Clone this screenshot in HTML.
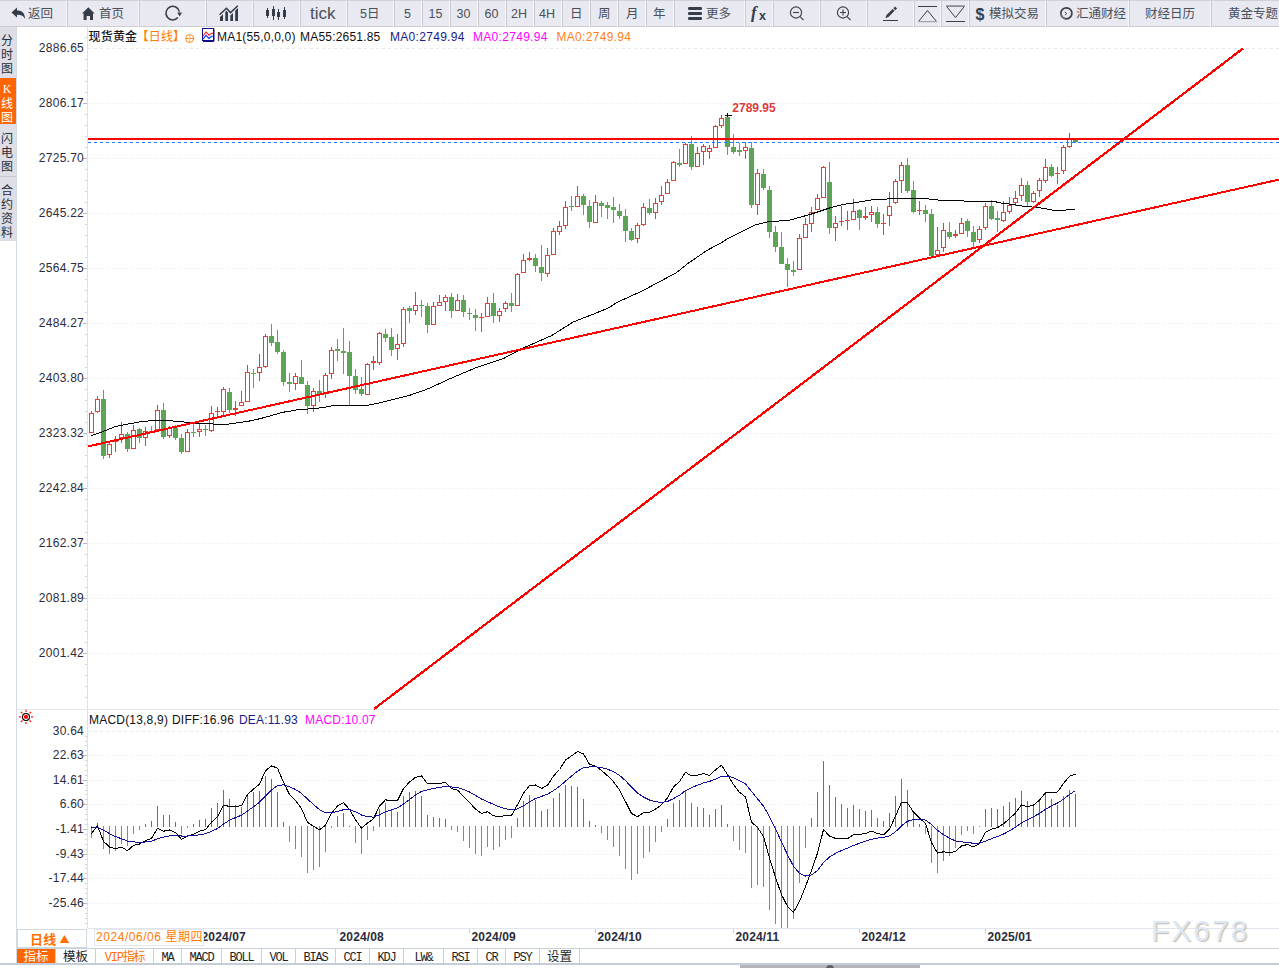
<!DOCTYPE html><html><head><meta charset="utf-8"><style>
*{margin:0;padding:0;box-sizing:border-box}
html,body{width:1279px;height:968px;overflow:hidden;background:#fff}
body{position:relative;font-family:"Liberation Sans","Noto Sans CJK SC",sans-serif;color:#2c2c3a}
.abs{position:absolute}
#tb{position:absolute;left:0;top:0;width:1279px;height:27px;background:#e9e9f1;border-top:1px solid #cfd0d8;border-bottom:1px solid #cbccd4}
.sep{position:absolute;top:0;width:1px;height:26px;background:#c9cad2}
.tt{position:absolute;top:1px;line-height:25px;height:25px;white-space:nowrap;color:#4a5059;font-weight:400;font-family:"Liberation Sans","Noto Sans CJK SC",sans-serif}
#sb{position:absolute;left:0;top:27px;width:16px;height:214px;background:#dddee6}
.sbt{position:absolute;left:0;width:14px;text-align:center;font-size:12px;line-height:14px;color:#2a2f38;font-family:"Noto Sans CJK SC",sans-serif}
.yl{position:absolute;right:1195px;font-size:12px;line-height:14px;color:#2b2b3b;white-space:nowrap;letter-spacing:0.25px}
.hd{position:absolute;font-size:12px;line-height:14px;white-space:nowrap;letter-spacing:0.2px}
.xl{position:absolute;top:931px;font-size:12px;font-weight:bold;line-height:13px;color:#2b2b3b;letter-spacing:0.15px}
.tab{position:absolute;top:949px;height:14px;line-height:18px;font-size:12px;letter-spacing:-1.2px;text-align:center;font-family:"Liberation Mono","Noto Sans CJK SC",monospace;color:#1a1f28;border-right:1px solid #c8d0da}
</style></head><body>
<div id="tb">
<div class="sep" style="left:67px"></div><div class="sep" style="left:66px;background:#f6f6fa;height:26px"></div>
<div class="sep" style="left:139px"></div><div class="sep" style="left:138px;background:#f6f6fa;height:26px"></div>
<div class="sep" style="left:206px"></div><div class="sep" style="left:205px;background:#f6f6fa;height:26px"></div>
<div class="sep" style="left:253px"></div><div class="sep" style="left:252px;background:#f6f6fa;height:26px"></div>
<div class="sep" style="left:300px"></div><div class="sep" style="left:299px;background:#f6f6fa;height:26px"></div>
<div class="sep" style="left:347px"></div><div class="sep" style="left:346px;background:#f6f6fa;height:26px"></div>
<div class="sep" style="left:394px"></div><div class="sep" style="left:393px;background:#f6f6fa;height:26px"></div>
<div class="sep" style="left:422px"></div><div class="sep" style="left:421px;background:#f6f6fa;height:26px"></div>
<div class="sep" style="left:450px"></div><div class="sep" style="left:449px;background:#f6f6fa;height:26px"></div>
<div class="sep" style="left:478px"></div><div class="sep" style="left:477px;background:#f6f6fa;height:26px"></div>
<div class="sep" style="left:506px"></div><div class="sep" style="left:505px;background:#f6f6fa;height:26px"></div>
<div class="sep" style="left:534px"></div><div class="sep" style="left:533px;background:#f6f6fa;height:26px"></div>
<div class="sep" style="left:562px"></div><div class="sep" style="left:561px;background:#f6f6fa;height:26px"></div>
<div class="sep" style="left:590px"></div><div class="sep" style="left:589px;background:#f6f6fa;height:26px"></div>
<div class="sep" style="left:618px"></div><div class="sep" style="left:617px;background:#f6f6fa;height:26px"></div>
<div class="sep" style="left:646px"></div><div class="sep" style="left:645px;background:#f6f6fa;height:26px"></div>
<div class="sep" style="left:674px"></div><div class="sep" style="left:673px;background:#f6f6fa;height:26px"></div>
<div class="sep" style="left:745px"></div><div class="sep" style="left:744px;background:#f6f6fa;height:26px"></div>
<div class="sep" style="left:773px"></div><div class="sep" style="left:772px;background:#f6f6fa;height:26px"></div>
<div class="sep" style="left:820px"></div><div class="sep" style="left:819px;background:#f6f6fa;height:26px"></div>
<div class="sep" style="left:867px"></div><div class="sep" style="left:866px;background:#f6f6fa;height:26px"></div>
<div class="sep" style="left:914px"></div><div class="sep" style="left:913px;background:#f6f6fa;height:26px"></div>
<div class="sep" style="left:941px"></div><div class="sep" style="left:940px;background:#f6f6fa;height:26px"></div>
<div class="sep" style="left:969px"></div><div class="sep" style="left:968px;background:#f6f6fa;height:26px"></div>
<div class="sep" style="left:1046px"></div><div class="sep" style="left:1045px;background:#f6f6fa;height:26px"></div>
<div class="sep" style="left:1129px"></div><div class="sep" style="left:1128px;background:#f6f6fa;height:26px"></div>
<div class="sep" style="left:1211px"></div><div class="sep" style="left:1210px;background:#f6f6fa;height:26px"></div>
<div class="tt " style="left:28px;font-size:12.5px">返回</div>
<div class="tt " style="left:99px;font-size:12.5px">首页</div>
<div class="tt" style="left:310px;top:0;font-size:17px">tick</div>
<div class="tt " style="left:360px;font-size:12.5px">5日</div>
<div class="tt " style="left:404px;font-size:12.5px">5</div>
<div class="tt " style="left:428.5px;font-size:12.5px">15</div>
<div class="tt " style="left:456.5px;font-size:12.5px">30</div>
<div class="tt " style="left:484.5px;font-size:12.5px">60</div>
<div class="tt " style="left:511px;font-size:12.5px">2H</div>
<div class="tt " style="left:539px;font-size:12.5px">4H</div>
<div class="tt " style="left:570px;font-size:12.5px">日</div>
<div class="tt " style="left:598px;font-size:12.5px">周</div>
<div class="tt " style="left:626px;font-size:12.5px">月</div>
<div class="tt " style="left:653px;font-size:12.5px">年</div>
<div class="tt " style="left:706px;font-size:12.5px">更多</div>
<div class="tt " style="left:989px;font-size:12.5px">模拟交易</div>
<div class="tt " style="left:1076px;font-size:12.5px">汇通财经</div>
<div class="tt " style="left:1145px;font-size:12.5px">财经日历</div>
<div class="tt " style="left:1228px;font-size:12.5px">黄金专题</div>
</div>
<svg class="abs" style="left:0;top:0" width="1279" height="27" viewBox="0 0 1279 27">
<g fill="#353d48" stroke="none">
<path d="M11.5,12.5 L17,7.5 L17,10.5 C22,10.5 25,13 25,19 C23.5,16 21.5,14.8 17,14.8 L17,17.5 Z"/>
<path d="M82,13.5 L88.3,7.2 L94.6,13.5 L93,13.5 L93,20 L90,20 L90,16 L86.6,16 L86.6,20 L83.6,20 L83.6,13.5 Z"/>
<path d="M220,17 L223,14.2 L223,21 L220,21 Z M225.3,11.9 L226.4,10.8 L228,12.5 L228,21 L225.3,21 Z M230.3,15 L230.6,15.3 L233,12.9 L233,21 L230.3,21 Z M235.2,10.6 L238,8 L238,21 L235.2,21 Z"/>
<rect x="266" y="10" width="3" height="6"/><rect x="267" y="8" width="1" height="10"/>
<rect x="272" y="9" width="3" height="7"/><rect x="273" y="6" width="1" height="14"/>
<rect x="277" y="12" width="3" height="5"/><rect x="278" y="9" width="1" height="11"/>
<rect x="283" y="10" width="3" height="7"/><rect x="284" y="7" width="1" height="12"/>
<rect x="688" y="7" width="14" height="3" rx="1.2"/><rect x="688" y="12" width="14" height="3" rx="1.2"/><rect x="688" y="17" width="14" height="3" rx="1.2"/>
</g>
<g fill="none" stroke="#353d48" stroke-width="1.6">
<path d="M219.6,14.8 L226.4,8.2 L230.6,12.6 L237.8,5.8" stroke-width="1.5"/>
<path d="M179.4,11.6 A6.8,6.8 0 1 0 177.9,17.6" stroke-width="1.5"/>
</g>
<path d="M177.3,12.6 L182,12.6 L179.6,16.6 Z" fill="#353d48"/>
<text x="751" y="17.5" font-family="Liberation Serif" font-style="italic" font-weight="bold" font-size="17" fill="#353d48">f</text>
<text x="759" y="19.5" font-family="Liberation Sans" font-weight="bold" font-size="12.5" fill="#353d48">x</text>
<g fill="none" stroke="#3a4250" stroke-width="1.15">
<circle cx="796" cy="12.5" r="5.6"/><path d="M800,16.6 L803.5,20"/><path d="M793,12.5 L799,12.5"/>
<circle cx="843" cy="12.5" r="5.6"/><path d="M847,16.6 L850.5,20"/><path d="M840,12.5 L846,12.5 M843,9.5 L843,15.5"/>
</g>
<path d="M885.5,18 L886.28,15.24 L892.61,8.88 L894.59,10.86 L888.26,17.22 Z M893.35,8.17 L895.11,6.4 L897.09,8.38 L895.33,10.15 Z" fill="#353d48"/><rect x="883" y="20" width="15" height="1" fill="#353d48"/>
<rect x="918" y="6" width="19" height="1" fill="#3a3f48"/><path d="M918.5,21.5 L927.5,10.5 L936.5,21.5 Z" fill="none" stroke="#3a3f48" stroke-width="1"/>
<rect x="918" y="21" width="19" height="1.2" fill="#a0a0a8"/>
<path d="M946.5,6.3 L964.5,6.3 L955.5,17.6 Z" fill="none" stroke="#3a3f48" stroke-width="1"/><rect x="946" y="21" width="19" height="1" fill="#3a3f48"/>
<rect x="946" y="5.3" width="19" height="1.6" fill="#8e9098"/>
<text x="975.5" y="19.5" font-family="Liberation Sans" font-weight="bold" font-size="16" fill="#353d48">$</text>
<g fill="none" stroke="#3a404a" stroke-width="1.7"><circle cx="1066.4" cy="13.3" r="5.5"/></g><path d="M1064.8,11.8 L1066.5,13.3 L1065.3,15.2" fill="none" stroke="#3a404a" stroke-width="1"/><path d="M1061.5,14.5 A5,5 0 0 0 1065,18.5" fill="none" stroke="#8a9098" stroke-width="1"/>
</svg>
<div id="sb">
<div class="abs" style="left:0;top:51px;width:16px;height:46px;background:#ff6600"></div>
<div class="abs" style="left:0;top:149px;width:16px;height:1px;background:#c8cad2"></div>
<div class="sbt" style="top:6px;color:#2a2f38">分</div><div class="sbt" style="top:20px;color:#2a2f38">时</div><div class="sbt" style="top:34px;color:#2a2f38">图</div>
<div class="sbt" style="top:55px;color:#ffffff;font-family:'Liberation Serif',serif;font-size:12px">K</div><div class="sbt" style="top:69px;color:#ffffff">线</div><div class="sbt" style="top:83px;color:#ffffff">图</div>
<div class="sbt" style="top:104px;color:#2a2f38">闪</div><div class="sbt" style="top:118px;color:#2a2f38">电</div><div class="sbt" style="top:132px;color:#2a2f38">图</div>
<div class="sbt" style="top:156px;color:#2a2f38">合</div><div class="sbt" style="top:170px;color:#2a2f38">约</div><div class="sbt" style="top:184px;color:#2a2f38">资</div><div class="sbt" style="top:198px;color:#2a2f38">料</div>
</div>
<div class="abs" style="left:16px;top:241px;width:1px;height:722px;background:#d3dae2"></div>
<div class="abs" style="left:16px;top:27px;width:1px;height:214px;background:#d3dae2"></div>
<svg class="abs" style="left:0;top:0" width="1279" height="968" viewBox="0 0 1279 968">
<rect x="87" y="27" width="1" height="901" fill="#dbe3ea"/>
<rect x="17" y="709" width="1262" height="1" fill="#e2e8ee"/>
<line x1="88" y1="48.5" x2="1279" y2="48.5" stroke="#e4eaf0" stroke-width="1" stroke-dasharray="3,3"/>
<line x1="88" y1="103.5" x2="1279" y2="103.5" stroke="#e4eaf0" stroke-width="1" stroke-dasharray="1,2"/>
<rect x="83" y="103" width="4" height="1" fill="#b4bcc6"/>
<line x1="88" y1="158.5" x2="1279" y2="158.5" stroke="#e4eaf0" stroke-width="1" stroke-dasharray="1,2"/>
<rect x="83" y="158" width="4" height="1" fill="#b4bcc6"/>
<line x1="88" y1="213.5" x2="1279" y2="213.5" stroke="#e4eaf0" stroke-width="1" stroke-dasharray="1,2"/>
<rect x="83" y="213" width="4" height="1" fill="#b4bcc6"/>
<line x1="88" y1="268.5" x2="1279" y2="268.5" stroke="#e4eaf0" stroke-width="1" stroke-dasharray="1,2"/>
<rect x="83" y="268" width="4" height="1" fill="#b4bcc6"/>
<line x1="88" y1="323.5" x2="1279" y2="323.5" stroke="#e4eaf0" stroke-width="1" stroke-dasharray="1,2"/>
<rect x="83" y="323" width="4" height="1" fill="#b4bcc6"/>
<line x1="88" y1="378.5" x2="1279" y2="378.5" stroke="#e4eaf0" stroke-width="1" stroke-dasharray="1,2"/>
<rect x="83" y="378" width="4" height="1" fill="#b4bcc6"/>
<line x1="88" y1="433.5" x2="1279" y2="433.5" stroke="#e4eaf0" stroke-width="1" stroke-dasharray="1,2"/>
<rect x="83" y="433" width="4" height="1" fill="#b4bcc6"/>
<line x1="88" y1="488.5" x2="1279" y2="488.5" stroke="#e4eaf0" stroke-width="1" stroke-dasharray="1,2"/>
<rect x="83" y="488" width="4" height="1" fill="#b4bcc6"/>
<line x1="88" y1="543.5" x2="1279" y2="543.5" stroke="#e4eaf0" stroke-width="1" stroke-dasharray="1,2"/>
<rect x="83" y="543" width="4" height="1" fill="#b4bcc6"/>
<line x1="88" y1="598.5" x2="1279" y2="598.5" stroke="#e4eaf0" stroke-width="1" stroke-dasharray="1,2"/>
<rect x="83" y="598" width="4" height="1" fill="#b4bcc6"/>
<line x1="88" y1="653.5" x2="1279" y2="653.5" stroke="#e4eaf0" stroke-width="1" stroke-dasharray="1,2"/>
<rect x="83" y="653" width="4" height="1" fill="#b4bcc6"/>
<rect x="85" y="37" width="2" height="1" fill="#d0d6de"/>
<rect x="85" y="59" width="2" height="1" fill="#d0d6de"/>
<rect x="85" y="70" width="2" height="1" fill="#d0d6de"/>
<rect x="85" y="81" width="2" height="1" fill="#d0d6de"/>
<rect x="85" y="92" width="2" height="1" fill="#d0d6de"/>
<rect x="85" y="114" width="2" height="1" fill="#d0d6de"/>
<rect x="85" y="125" width="2" height="1" fill="#d0d6de"/>
<rect x="85" y="136" width="2" height="1" fill="#d0d6de"/>
<rect x="85" y="147" width="2" height="1" fill="#d0d6de"/>
<rect x="85" y="169" width="2" height="1" fill="#d0d6de"/>
<rect x="85" y="180" width="2" height="1" fill="#d0d6de"/>
<rect x="85" y="191" width="2" height="1" fill="#d0d6de"/>
<rect x="85" y="202" width="2" height="1" fill="#d0d6de"/>
<rect x="85" y="224" width="2" height="1" fill="#d0d6de"/>
<rect x="85" y="235" width="2" height="1" fill="#d0d6de"/>
<rect x="85" y="246" width="2" height="1" fill="#d0d6de"/>
<rect x="85" y="257" width="2" height="1" fill="#d0d6de"/>
<rect x="85" y="279" width="2" height="1" fill="#d0d6de"/>
<rect x="85" y="290" width="2" height="1" fill="#d0d6de"/>
<rect x="85" y="301" width="2" height="1" fill="#d0d6de"/>
<rect x="85" y="312" width="2" height="1" fill="#d0d6de"/>
<rect x="85" y="334" width="2" height="1" fill="#d0d6de"/>
<rect x="85" y="345" width="2" height="1" fill="#d0d6de"/>
<rect x="85" y="356" width="2" height="1" fill="#d0d6de"/>
<rect x="85" y="367" width="2" height="1" fill="#d0d6de"/>
<rect x="85" y="389" width="2" height="1" fill="#d0d6de"/>
<rect x="85" y="400" width="2" height="1" fill="#d0d6de"/>
<rect x="85" y="411" width="2" height="1" fill="#d0d6de"/>
<rect x="85" y="422" width="2" height="1" fill="#d0d6de"/>
<rect x="85" y="444" width="2" height="1" fill="#d0d6de"/>
<rect x="85" y="455" width="2" height="1" fill="#d0d6de"/>
<rect x="85" y="466" width="2" height="1" fill="#d0d6de"/>
<rect x="85" y="477" width="2" height="1" fill="#d0d6de"/>
<rect x="85" y="499" width="2" height="1" fill="#d0d6de"/>
<rect x="85" y="510" width="2" height="1" fill="#d0d6de"/>
<rect x="85" y="521" width="2" height="1" fill="#d0d6de"/>
<rect x="85" y="532" width="2" height="1" fill="#d0d6de"/>
<rect x="85" y="554" width="2" height="1" fill="#d0d6de"/>
<rect x="85" y="565" width="2" height="1" fill="#d0d6de"/>
<rect x="85" y="576" width="2" height="1" fill="#d0d6de"/>
<rect x="85" y="587" width="2" height="1" fill="#d0d6de"/>
<rect x="85" y="609" width="2" height="1" fill="#d0d6de"/>
<rect x="85" y="620" width="2" height="1" fill="#d0d6de"/>
<rect x="85" y="631" width="2" height="1" fill="#d0d6de"/>
<rect x="85" y="642" width="2" height="1" fill="#d0d6de"/>
<rect x="85" y="664" width="2" height="1" fill="#d0d6de"/>
<rect x="85" y="675" width="2" height="1" fill="#d0d6de"/>
<rect x="85" y="686" width="2" height="1" fill="#d0d6de"/>
<rect x="85" y="697" width="2" height="1" fill="#d0d6de"/>
<rect x="89.5" y="413.5" width="4" height="19" fill="#fff" stroke="#d8433b" stroke-width="1"/>
<rect x="91" y="411" width="1" height="2" fill="#d8433b"/>
<rect x="95.5" y="399.5" width="4" height="12" fill="#fff" stroke="#d8433b" stroke-width="1"/>
<rect x="97" y="396" width="1" height="3" fill="#d8433b"/>
<rect x="97" y="412" width="1" height="1" fill="#d8433b"/>
<rect x="101" y="399" width="5" height="57" fill="#5ea457"/>
<rect x="103" y="390" width="1" height="69" fill="#5ea457"/>
<rect x="107.5" y="444.5" width="4" height="10" fill="#fff" stroke="#d8433b" stroke-width="1"/>
<rect x="109" y="442" width="1" height="2" fill="#d8433b"/>
<rect x="109" y="455" width="1" height="3" fill="#d8433b"/>
<rect x="113" y="440" width="5" height="2" fill="#d8433b"/>
<rect x="115" y="436" width="1" height="4" fill="#d8433b"/>
<rect x="115" y="442" width="1" height="10" fill="#d8433b"/>
<rect x="119.5" y="434.5" width="4" height="3" fill="#fff" stroke="#d8433b" stroke-width="1"/>
<rect x="121" y="422" width="1" height="12" fill="#d8433b"/>
<rect x="121" y="438" width="1" height="5" fill="#d8433b"/>
<rect x="125" y="434" width="5" height="15" fill="#5ea457"/>
<rect x="127" y="432" width="1" height="20" fill="#5ea457"/>
<rect x="131.5" y="430.5" width="4" height="18" fill="#fff" stroke="#d8433b" stroke-width="1"/>
<rect x="133" y="425" width="1" height="5" fill="#d8433b"/>
<rect x="137" y="429" width="5" height="9" fill="#5ea457"/>
<rect x="139" y="428" width="1" height="15" fill="#5ea457"/>
<rect x="143.5" y="431.5" width="4" height="6" fill="#fff" stroke="#d8433b" stroke-width="1"/>
<rect x="145" y="427" width="1" height="4" fill="#d8433b"/>
<rect x="145" y="438" width="1" height="8" fill="#d8433b"/>
<rect x="149" y="431" width="5" height="2" fill="#5ea457"/>
<rect x="151" y="426" width="1" height="7" fill="#5ea457"/>
<rect x="155.5" y="410.5" width="4" height="19" fill="#fff" stroke="#d8433b" stroke-width="1"/>
<rect x="157" y="405" width="1" height="5" fill="#d8433b"/>
<rect x="161" y="410" width="5" height="27" fill="#5ea457"/>
<rect x="163" y="403" width="1" height="36" fill="#5ea457"/>
<rect x="167.5" y="428.5" width="4" height="7" fill="#fff" stroke="#d8433b" stroke-width="1"/>
<rect x="169" y="426" width="1" height="2" fill="#d8433b"/>
<rect x="169" y="436" width="1" height="2" fill="#d8433b"/>
<rect x="173" y="428" width="5" height="10" fill="#5ea457"/>
<rect x="175" y="425" width="1" height="15" fill="#5ea457"/>
<rect x="179" y="438" width="5" height="14" fill="#5ea457"/>
<rect x="181" y="434" width="1" height="20" fill="#5ea457"/>
<rect x="185.5" y="432.5" width="4" height="19" fill="#fff" stroke="#d8433b" stroke-width="1"/>
<rect x="187" y="429" width="1" height="3" fill="#d8433b"/>
<rect x="191" y="432" width="5" height="1" fill="#5ea457"/>
<rect x="193" y="424" width="1" height="13" fill="#5ea457"/>
<rect x="197.5" y="429.5" width="4" height="2" fill="#fff" stroke="#d8433b" stroke-width="1"/>
<rect x="199" y="424" width="1" height="5" fill="#d8433b"/>
<rect x="199" y="432" width="1" height="5" fill="#d8433b"/>
<rect x="203" y="429" width="5" height="1" fill="#5ea457"/>
<rect x="205" y="425" width="1" height="11" fill="#5ea457"/>
<rect x="209.5" y="413.5" width="4" height="17" fill="#fff" stroke="#d8433b" stroke-width="1"/>
<rect x="211" y="406" width="1" height="7" fill="#d8433b"/>
<rect x="211" y="431" width="1" height="1" fill="#d8433b"/>
<rect x="215" y="411" width="5" height="1" fill="#d8433b"/>
<rect x="217" y="407" width="1" height="4" fill="#d8433b"/>
<rect x="217" y="412" width="1" height="4" fill="#d8433b"/>
<rect x="221.5" y="389.5" width="4" height="22" fill="#fff" stroke="#d8433b" stroke-width="1"/>
<rect x="223" y="387" width="1" height="2" fill="#d8433b"/>
<rect x="223" y="412" width="1" height="3" fill="#d8433b"/>
<rect x="227" y="392" width="5" height="18" fill="#5ea457"/>
<rect x="229" y="388" width="1" height="25" fill="#5ea457"/>
<rect x="233" y="408" width="5" height="2" fill="#d8433b"/>
<rect x="235" y="401" width="1" height="7" fill="#d8433b"/>
<rect x="235" y="410" width="1" height="6" fill="#d8433b"/>
<rect x="239.5" y="402.5" width="4" height="3" fill="#fff" stroke="#d8433b" stroke-width="1"/>
<rect x="241" y="391" width="1" height="11" fill="#d8433b"/>
<rect x="245.5" y="372.5" width="4" height="29" fill="#fff" stroke="#d8433b" stroke-width="1"/>
<rect x="247" y="365" width="1" height="7" fill="#d8433b"/>
<rect x="251" y="373" width="5" height="1" fill="#5ea457"/>
<rect x="253" y="369" width="1" height="19" fill="#5ea457"/>
<rect x="257.5" y="367.5" width="4" height="5" fill="#fff" stroke="#d8433b" stroke-width="1"/>
<rect x="259" y="354" width="1" height="13" fill="#d8433b"/>
<rect x="259" y="373" width="1" height="8" fill="#d8433b"/>
<rect x="263.5" y="336.5" width="4" height="30" fill="#fff" stroke="#d8433b" stroke-width="1"/>
<rect x="265" y="334" width="1" height="2" fill="#d8433b"/>
<rect x="265" y="367" width="1" height="1" fill="#d8433b"/>
<rect x="269" y="336" width="5" height="7" fill="#5ea457"/>
<rect x="271" y="324" width="1" height="22" fill="#5ea457"/>
<rect x="275" y="342" width="5" height="10" fill="#5ea457"/>
<rect x="277" y="330" width="1" height="24" fill="#5ea457"/>
<rect x="281" y="352" width="5" height="30" fill="#5ea457"/>
<rect x="283" y="350" width="1" height="36" fill="#5ea457"/>
<rect x="287" y="382" width="5" height="2" fill="#5ea457"/>
<rect x="289" y="373" width="1" height="19" fill="#5ea457"/>
<rect x="293.5" y="376.5" width="4" height="7" fill="#fff" stroke="#d8433b" stroke-width="1"/>
<rect x="295" y="373" width="1" height="3" fill="#d8433b"/>
<rect x="295" y="384" width="1" height="6" fill="#d8433b"/>
<rect x="299" y="377" width="5" height="7" fill="#5ea457"/>
<rect x="301" y="360" width="1" height="24" fill="#5ea457"/>
<rect x="305" y="385" width="5" height="21" fill="#5ea457"/>
<rect x="307" y="381" width="1" height="33" fill="#5ea457"/>
<rect x="311.5" y="391.5" width="4" height="14" fill="#fff" stroke="#d8433b" stroke-width="1"/>
<rect x="313" y="388" width="1" height="3" fill="#d8433b"/>
<rect x="313" y="406" width="1" height="6" fill="#d8433b"/>
<rect x="317" y="391" width="5" height="3" fill="#5ea457"/>
<rect x="319" y="380" width="1" height="22" fill="#5ea457"/>
<rect x="323.5" y="375.5" width="4" height="17" fill="#fff" stroke="#d8433b" stroke-width="1"/>
<rect x="325" y="373" width="1" height="2" fill="#d8433b"/>
<rect x="325" y="393" width="1" height="5" fill="#d8433b"/>
<rect x="329.5" y="350.5" width="4" height="23" fill="#fff" stroke="#d8433b" stroke-width="1"/>
<rect x="331" y="347" width="1" height="3" fill="#d8433b"/>
<rect x="331" y="374" width="1" height="5" fill="#d8433b"/>
<rect x="335" y="349" width="5" height="2" fill="#5ea457"/>
<rect x="337" y="339" width="1" height="22" fill="#5ea457"/>
<rect x="341" y="351" width="5" height="2" fill="#5ea457"/>
<rect x="343" y="328" width="1" height="46" fill="#5ea457"/>
<rect x="347" y="352" width="5" height="24" fill="#5ea457"/>
<rect x="349" y="341" width="1" height="64" fill="#5ea457"/>
<rect x="353" y="376" width="5" height="14" fill="#5ea457"/>
<rect x="355" y="369" width="1" height="25" fill="#5ea457"/>
<rect x="359" y="389" width="5" height="5" fill="#5ea457"/>
<rect x="361" y="377" width="1" height="19" fill="#5ea457"/>
<rect x="365.5" y="364.5" width="4" height="30" fill="#fff" stroke="#d8433b" stroke-width="1"/>
<rect x="367" y="363" width="1" height="1" fill="#d8433b"/>
<rect x="371" y="361" width="5" height="2" fill="#d8433b"/>
<rect x="373" y="356" width="1" height="5" fill="#d8433b"/>
<rect x="373" y="363" width="1" height="7" fill="#d8433b"/>
<rect x="377.5" y="333.5" width="4" height="29" fill="#fff" stroke="#d8433b" stroke-width="1"/>
<rect x="379" y="332" width="1" height="1" fill="#d8433b"/>
<rect x="379" y="363" width="1" height="2" fill="#d8433b"/>
<rect x="383" y="334" width="5" height="4" fill="#5ea457"/>
<rect x="385" y="329" width="1" height="13" fill="#5ea457"/>
<rect x="389" y="337" width="5" height="13" fill="#5ea457"/>
<rect x="391" y="328" width="1" height="28" fill="#5ea457"/>
<rect x="395.5" y="344.5" width="4" height="4" fill="#fff" stroke="#d8433b" stroke-width="1"/>
<rect x="397" y="334" width="1" height="10" fill="#d8433b"/>
<rect x="397" y="349" width="1" height="11" fill="#d8433b"/>
<rect x="401.5" y="309.5" width="4" height="34" fill="#fff" stroke="#d8433b" stroke-width="1"/>
<rect x="403" y="307" width="1" height="2" fill="#d8433b"/>
<rect x="403" y="344" width="1" height="3" fill="#d8433b"/>
<rect x="407" y="308" width="5" height="3" fill="#5ea457"/>
<rect x="409" y="306" width="1" height="17" fill="#5ea457"/>
<rect x="413.5" y="305.5" width="4" height="5" fill="#fff" stroke="#d8433b" stroke-width="1"/>
<rect x="415" y="292" width="1" height="13" fill="#d8433b"/>
<rect x="415" y="311" width="1" height="4" fill="#d8433b"/>
<rect x="419" y="305" width="5" height="1" fill="#5ea457"/>
<rect x="421" y="300" width="1" height="17" fill="#5ea457"/>
<rect x="425" y="306" width="5" height="19" fill="#5ea457"/>
<rect x="427" y="303" width="1" height="30" fill="#5ea457"/>
<rect x="431.5" y="306.5" width="4" height="18" fill="#fff" stroke="#d8433b" stroke-width="1"/>
<rect x="433" y="302" width="1" height="4" fill="#d8433b"/>
<rect x="437.5" y="302.5" width="4" height="3" fill="#fff" stroke="#d8433b" stroke-width="1"/>
<rect x="439" y="295" width="1" height="7" fill="#d8433b"/>
<rect x="443.5" y="297.5" width="4" height="4" fill="#fff" stroke="#d8433b" stroke-width="1"/>
<rect x="445" y="295" width="1" height="2" fill="#d8433b"/>
<rect x="445" y="302" width="1" height="9" fill="#d8433b"/>
<rect x="449" y="297" width="5" height="14" fill="#5ea457"/>
<rect x="451" y="293" width="1" height="25" fill="#5ea457"/>
<rect x="455.5" y="300.5" width="4" height="10" fill="#fff" stroke="#d8433b" stroke-width="1"/>
<rect x="457" y="294" width="1" height="6" fill="#d8433b"/>
<rect x="461" y="300" width="5" height="12" fill="#5ea457"/>
<rect x="463" y="295" width="1" height="22" fill="#5ea457"/>
<rect x="467" y="313" width="5" height="1" fill="#5ea457"/>
<rect x="469" y="308" width="1" height="12" fill="#5ea457"/>
<rect x="473" y="315" width="5" height="3" fill="#5ea457"/>
<rect x="475" y="309" width="1" height="22" fill="#5ea457"/>
<rect x="479" y="317" width="5" height="1" fill="#d8433b"/>
<rect x="481" y="313" width="1" height="4" fill="#d8433b"/>
<rect x="481" y="318" width="1" height="14" fill="#d8433b"/>
<rect x="485.5" y="303.5" width="4" height="13" fill="#fff" stroke="#d8433b" stroke-width="1"/>
<rect x="487" y="297" width="1" height="6" fill="#d8433b"/>
<rect x="491" y="303" width="5" height="13" fill="#5ea457"/>
<rect x="493" y="293" width="1" height="30" fill="#5ea457"/>
<rect x="497.5" y="311.5" width="4" height="4" fill="#fff" stroke="#d8433b" stroke-width="1"/>
<rect x="499" y="308" width="1" height="3" fill="#d8433b"/>
<rect x="499" y="316" width="1" height="6" fill="#d8433b"/>
<rect x="503.5" y="303.5" width="4" height="5" fill="#fff" stroke="#d8433b" stroke-width="1"/>
<rect x="505" y="301" width="1" height="2" fill="#d8433b"/>
<rect x="505" y="309" width="1" height="3" fill="#d8433b"/>
<rect x="509" y="303" width="5" height="3" fill="#5ea457"/>
<rect x="511" y="293" width="1" height="19" fill="#5ea457"/>
<rect x="515.5" y="274.5" width="4" height="31" fill="#fff" stroke="#d8433b" stroke-width="1"/>
<rect x="517" y="273" width="1" height="1" fill="#d8433b"/>
<rect x="521.5" y="260.5" width="4" height="12" fill="#fff" stroke="#d8433b" stroke-width="1"/>
<rect x="523" y="254" width="1" height="6" fill="#d8433b"/>
<rect x="527" y="258" width="5" height="2" fill="#d8433b"/>
<rect x="529" y="252" width="1" height="6" fill="#d8433b"/>
<rect x="529" y="260" width="1" height="1" fill="#d8433b"/>
<rect x="533" y="258" width="5" height="8" fill="#5ea457"/>
<rect x="535" y="254" width="1" height="18" fill="#5ea457"/>
<rect x="539" y="267" width="5" height="6" fill="#5ea457"/>
<rect x="541" y="245" width="1" height="36" fill="#5ea457"/>
<rect x="545.5" y="255.5" width="4" height="18" fill="#fff" stroke="#d8433b" stroke-width="1"/>
<rect x="547" y="248" width="1" height="7" fill="#d8433b"/>
<rect x="547" y="274" width="1" height="3" fill="#d8433b"/>
<rect x="551.5" y="231.5" width="4" height="23" fill="#fff" stroke="#d8433b" stroke-width="1"/>
<rect x="553" y="228" width="1" height="3" fill="#d8433b"/>
<rect x="557.5" y="226.5" width="4" height="5" fill="#fff" stroke="#d8433b" stroke-width="1"/>
<rect x="559" y="221" width="1" height="5" fill="#d8433b"/>
<rect x="559" y="232" width="1" height="3" fill="#d8433b"/>
<rect x="563.5" y="207.5" width="4" height="18" fill="#fff" stroke="#d8433b" stroke-width="1"/>
<rect x="565" y="201" width="1" height="6" fill="#d8433b"/>
<rect x="565" y="226" width="1" height="3" fill="#d8433b"/>
<rect x="569" y="206" width="5" height="1" fill="#5ea457"/>
<rect x="571" y="196" width="1" height="15" fill="#5ea457"/>
<rect x="575.5" y="196.5" width="4" height="10" fill="#fff" stroke="#d8433b" stroke-width="1"/>
<rect x="577" y="186" width="1" height="10" fill="#d8433b"/>
<rect x="581" y="196" width="5" height="9" fill="#5ea457"/>
<rect x="583" y="194" width="1" height="21" fill="#5ea457"/>
<rect x="587" y="206" width="5" height="16" fill="#5ea457"/>
<rect x="589" y="200" width="1" height="28" fill="#5ea457"/>
<rect x="593.5" y="202.5" width="4" height="20" fill="#fff" stroke="#d8433b" stroke-width="1"/>
<rect x="595" y="195" width="1" height="7" fill="#d8433b"/>
<rect x="599" y="203" width="5" height="3" fill="#5ea457"/>
<rect x="601" y="201" width="1" height="16" fill="#5ea457"/>
<rect x="605" y="205" width="5" height="3" fill="#5ea457"/>
<rect x="607" y="202" width="1" height="17" fill="#5ea457"/>
<rect x="611" y="207" width="5" height="3" fill="#5ea457"/>
<rect x="613" y="197" width="1" height="26" fill="#5ea457"/>
<rect x="617" y="211" width="5" height="5" fill="#5ea457"/>
<rect x="619" y="204" width="1" height="15" fill="#5ea457"/>
<rect x="623" y="216" width="5" height="15" fill="#5ea457"/>
<rect x="625" y="209" width="1" height="33" fill="#5ea457"/>
<rect x="629" y="231" width="5" height="9" fill="#5ea457"/>
<rect x="631" y="228" width="1" height="13" fill="#5ea457"/>
<rect x="635.5" y="225.5" width="4" height="13" fill="#fff" stroke="#d8433b" stroke-width="1"/>
<rect x="637" y="223" width="1" height="2" fill="#d8433b"/>
<rect x="637" y="239" width="1" height="4" fill="#d8433b"/>
<rect x="641.5" y="207.5" width="4" height="17" fill="#fff" stroke="#d8433b" stroke-width="1"/>
<rect x="643" y="203" width="1" height="4" fill="#d8433b"/>
<rect x="643" y="225" width="1" height="1" fill="#d8433b"/>
<rect x="647" y="208" width="5" height="5" fill="#5ea457"/>
<rect x="649" y="199" width="1" height="16" fill="#5ea457"/>
<rect x="653.5" y="203.5" width="4" height="9" fill="#fff" stroke="#d8433b" stroke-width="1"/>
<rect x="655" y="198" width="1" height="5" fill="#d8433b"/>
<rect x="655" y="213" width="1" height="6" fill="#d8433b"/>
<rect x="659.5" y="195.5" width="4" height="6" fill="#fff" stroke="#d8433b" stroke-width="1"/>
<rect x="661" y="186" width="1" height="9" fill="#d8433b"/>
<rect x="661" y="202" width="1" height="3" fill="#d8433b"/>
<rect x="665.5" y="182.5" width="4" height="11" fill="#fff" stroke="#d8433b" stroke-width="1"/>
<rect x="667" y="179" width="1" height="3" fill="#d8433b"/>
<rect x="671.5" y="162.5" width="4" height="18" fill="#fff" stroke="#d8433b" stroke-width="1"/>
<rect x="673" y="161" width="1" height="1" fill="#d8433b"/>
<rect x="677" y="163" width="5" height="2" fill="#5ea457"/>
<rect x="679" y="149" width="1" height="18" fill="#5ea457"/>
<rect x="683.5" y="144.5" width="4" height="19" fill="#fff" stroke="#d8433b" stroke-width="1"/>
<rect x="685" y="143" width="1" height="1" fill="#d8433b"/>
<rect x="689" y="144" width="5" height="23" fill="#5ea457"/>
<rect x="691" y="136" width="1" height="34" fill="#5ea457"/>
<rect x="695.5" y="153.5" width="4" height="13" fill="#fff" stroke="#d8433b" stroke-width="1"/>
<rect x="697" y="147" width="1" height="6" fill="#d8433b"/>
<rect x="701.5" y="146.5" width="4" height="5" fill="#fff" stroke="#d8433b" stroke-width="1"/>
<rect x="703" y="144" width="1" height="2" fill="#d8433b"/>
<rect x="703" y="152" width="1" height="13" fill="#d8433b"/>
<rect x="707.5" y="148.5" width="4" height="3" fill="#fff" stroke="#d8433b" stroke-width="1"/>
<rect x="709" y="145" width="1" height="3" fill="#d8433b"/>
<rect x="709" y="152" width="1" height="7" fill="#d8433b"/>
<rect x="713.5" y="126.5" width="4" height="21" fill="#fff" stroke="#d8433b" stroke-width="1"/>
<rect x="715" y="125" width="1" height="1" fill="#d8433b"/>
<rect x="719.5" y="118.5" width="4" height="7" fill="#fff" stroke="#d8433b" stroke-width="1"/>
<rect x="721" y="115" width="1" height="3" fill="#d8433b"/>
<rect x="721" y="126" width="1" height="2" fill="#d8433b"/>
<rect x="725" y="117" width="5" height="30" fill="#5ea457"/>
<rect x="727" y="114" width="1" height="41" fill="#5ea457"/>
<rect x="731" y="147" width="5" height="5" fill="#5ea457"/>
<rect x="733" y="134" width="1" height="20" fill="#5ea457"/>
<rect x="737" y="150" width="5" height="2" fill="#5ea457"/>
<rect x="739" y="143" width="1" height="13" fill="#5ea457"/>
<rect x="743.5" y="147.5" width="4" height="3" fill="#fff" stroke="#d8433b" stroke-width="1"/>
<rect x="745" y="142" width="1" height="5" fill="#d8433b"/>
<rect x="745" y="151" width="1" height="8" fill="#d8433b"/>
<rect x="749" y="148" width="5" height="57" fill="#5ea457"/>
<rect x="751" y="142" width="1" height="66" fill="#5ea457"/>
<rect x="755.5" y="173.5" width="4" height="31" fill="#fff" stroke="#d8433b" stroke-width="1"/>
<rect x="757" y="169" width="1" height="4" fill="#d8433b"/>
<rect x="757" y="205" width="1" height="10" fill="#d8433b"/>
<rect x="761" y="174" width="5" height="14" fill="#5ea457"/>
<rect x="763" y="169" width="1" height="21" fill="#5ea457"/>
<rect x="767" y="190" width="5" height="42" fill="#5ea457"/>
<rect x="769" y="186" width="1" height="52" fill="#5ea457"/>
<rect x="773" y="232" width="5" height="15" fill="#5ea457"/>
<rect x="775" y="226" width="1" height="26" fill="#5ea457"/>
<rect x="779" y="247" width="5" height="17" fill="#5ea457"/>
<rect x="781" y="232" width="1" height="32" fill="#5ea457"/>
<rect x="785" y="264" width="5" height="6" fill="#5ea457"/>
<rect x="787" y="258" width="1" height="29" fill="#5ea457"/>
<rect x="791" y="270" width="5" height="2" fill="#5ea457"/>
<rect x="793" y="261" width="1" height="15" fill="#5ea457"/>
<rect x="797.5" y="238.5" width="4" height="31" fill="#fff" stroke="#d8433b" stroke-width="1"/>
<rect x="799" y="234" width="1" height="4" fill="#d8433b"/>
<rect x="803.5" y="224.5" width="4" height="13" fill="#fff" stroke="#d8433b" stroke-width="1"/>
<rect x="805" y="218" width="1" height="6" fill="#d8433b"/>
<rect x="809.5" y="212.5" width="4" height="11" fill="#fff" stroke="#d8433b" stroke-width="1"/>
<rect x="811" y="207" width="1" height="5" fill="#d8433b"/>
<rect x="811" y="224" width="1" height="8" fill="#d8433b"/>
<rect x="815.5" y="198.5" width="4" height="11" fill="#fff" stroke="#d8433b" stroke-width="1"/>
<rect x="817" y="194" width="1" height="4" fill="#d8433b"/>
<rect x="821.5" y="167.5" width="4" height="30" fill="#fff" stroke="#d8433b" stroke-width="1"/>
<rect x="823" y="166" width="1" height="1" fill="#d8433b"/>
<rect x="827" y="182" width="5" height="46" fill="#5ea457"/>
<rect x="829" y="162" width="1" height="72" fill="#5ea457"/>
<rect x="833.5" y="223.5" width="4" height="4" fill="#fff" stroke="#d8433b" stroke-width="1"/>
<rect x="835" y="216" width="1" height="7" fill="#d8433b"/>
<rect x="835" y="228" width="1" height="13" fill="#d8433b"/>
<rect x="839" y="221" width="5" height="1" fill="#d8433b"/>
<rect x="841" y="206" width="1" height="15" fill="#d8433b"/>
<rect x="841" y="222" width="1" height="4" fill="#d8433b"/>
<rect x="845" y="220" width="5" height="1" fill="#d8433b"/>
<rect x="847" y="211" width="1" height="9" fill="#d8433b"/>
<rect x="847" y="221" width="1" height="9" fill="#d8433b"/>
<rect x="851.5" y="211.5" width="4" height="8" fill="#fff" stroke="#d8433b" stroke-width="1"/>
<rect x="853" y="199" width="1" height="12" fill="#d8433b"/>
<rect x="857" y="210" width="5" height="8" fill="#5ea457"/>
<rect x="859" y="209" width="1" height="21" fill="#5ea457"/>
<rect x="863" y="216" width="5" height="2" fill="#d8433b"/>
<rect x="865" y="207" width="1" height="9" fill="#d8433b"/>
<rect x="865" y="218" width="1" height="2" fill="#d8433b"/>
<rect x="869.5" y="212.5" width="4" height="2" fill="#fff" stroke="#d8433b" stroke-width="1"/>
<rect x="871" y="206" width="1" height="6" fill="#d8433b"/>
<rect x="871" y="215" width="1" height="7" fill="#d8433b"/>
<rect x="875" y="212" width="5" height="12" fill="#5ea457"/>
<rect x="877" y="207" width="1" height="21" fill="#5ea457"/>
<rect x="881" y="223" width="5" height="1" fill="#d8433b"/>
<rect x="883" y="214" width="1" height="9" fill="#d8433b"/>
<rect x="883" y="224" width="1" height="11" fill="#d8433b"/>
<rect x="887.5" y="206.5" width="4" height="9" fill="#fff" stroke="#d8433b" stroke-width="1"/>
<rect x="889" y="192" width="1" height="14" fill="#d8433b"/>
<rect x="889" y="216" width="1" height="10" fill="#d8433b"/>
<rect x="893.5" y="181.5" width="4" height="21" fill="#fff" stroke="#d8433b" stroke-width="1"/>
<rect x="895" y="179" width="1" height="2" fill="#d8433b"/>
<rect x="895" y="203" width="1" height="1" fill="#d8433b"/>
<rect x="899.5" y="165.5" width="4" height="15" fill="#fff" stroke="#d8433b" stroke-width="1"/>
<rect x="901" y="162" width="1" height="3" fill="#d8433b"/>
<rect x="901" y="181" width="1" height="12" fill="#d8433b"/>
<rect x="905" y="165" width="5" height="26" fill="#5ea457"/>
<rect x="907" y="158" width="1" height="35" fill="#5ea457"/>
<rect x="911" y="190" width="5" height="22" fill="#5ea457"/>
<rect x="913" y="181" width="1" height="32" fill="#5ea457"/>
<rect x="917" y="210" width="5" height="1" fill="#d8433b"/>
<rect x="919" y="201" width="1" height="9" fill="#d8433b"/>
<rect x="919" y="211" width="1" height="4" fill="#d8433b"/>
<rect x="923" y="210" width="5" height="4" fill="#5ea457"/>
<rect x="925" y="205" width="1" height="17" fill="#5ea457"/>
<rect x="929" y="214" width="5" height="42" fill="#5ea457"/>
<rect x="931" y="209" width="1" height="47" fill="#5ea457"/>
<rect x="935.5" y="250.5" width="4" height="4" fill="#fff" stroke="#d8433b" stroke-width="1"/>
<rect x="937" y="227" width="1" height="23" fill="#d8433b"/>
<rect x="941.5" y="230.5" width="4" height="17" fill="#fff" stroke="#d8433b" stroke-width="1"/>
<rect x="943" y="223" width="1" height="7" fill="#d8433b"/>
<rect x="943" y="248" width="1" height="4" fill="#d8433b"/>
<rect x="947" y="232" width="5" height="5" fill="#5ea457"/>
<rect x="949" y="222" width="1" height="17" fill="#5ea457"/>
<rect x="953" y="234" width="5" height="2" fill="#d8433b"/>
<rect x="955" y="230" width="1" height="4" fill="#d8433b"/>
<rect x="955" y="236" width="1" height="2" fill="#d8433b"/>
<rect x="959.5" y="223.5" width="4" height="10" fill="#fff" stroke="#d8433b" stroke-width="1"/>
<rect x="961" y="218" width="1" height="5" fill="#d8433b"/>
<rect x="965" y="221" width="5" height="10" fill="#5ea457"/>
<rect x="967" y="219" width="1" height="18" fill="#5ea457"/>
<rect x="971" y="232" width="5" height="10" fill="#5ea457"/>
<rect x="973" y="226" width="1" height="21" fill="#5ea457"/>
<rect x="977.5" y="229.5" width="4" height="10" fill="#fff" stroke="#d8433b" stroke-width="1"/>
<rect x="979" y="226" width="1" height="3" fill="#d8433b"/>
<rect x="979" y="240" width="1" height="3" fill="#d8433b"/>
<rect x="983.5" y="206.5" width="4" height="21" fill="#fff" stroke="#d8433b" stroke-width="1"/>
<rect x="985" y="203" width="1" height="3" fill="#d8433b"/>
<rect x="985" y="228" width="1" height="2" fill="#d8433b"/>
<rect x="989" y="206" width="5" height="13" fill="#5ea457"/>
<rect x="991" y="200" width="1" height="20" fill="#5ea457"/>
<rect x="995" y="218" width="5" height="2" fill="#5ea457"/>
<rect x="997" y="211" width="1" height="21" fill="#5ea457"/>
<rect x="1001.5" y="212.5" width="4" height="8" fill="#fff" stroke="#d8433b" stroke-width="1"/>
<rect x="1003" y="201" width="1" height="11" fill="#d8433b"/>
<rect x="1003" y="221" width="1" height="1" fill="#d8433b"/>
<rect x="1007.5" y="205.5" width="4" height="6" fill="#fff" stroke="#d8433b" stroke-width="1"/>
<rect x="1009" y="197" width="1" height="8" fill="#d8433b"/>
<rect x="1009" y="212" width="1" height="2" fill="#d8433b"/>
<rect x="1013.5" y="198.5" width="4" height="4" fill="#fff" stroke="#d8433b" stroke-width="1"/>
<rect x="1015" y="191" width="1" height="7" fill="#d8433b"/>
<rect x="1015" y="203" width="1" height="3" fill="#d8433b"/>
<rect x="1019.5" y="185.5" width="4" height="10" fill="#fff" stroke="#d8433b" stroke-width="1"/>
<rect x="1021" y="178" width="1" height="7" fill="#d8433b"/>
<rect x="1021" y="196" width="1" height="5" fill="#d8433b"/>
<rect x="1025" y="185" width="5" height="17" fill="#5ea457"/>
<rect x="1027" y="181" width="1" height="25" fill="#5ea457"/>
<rect x="1031.5" y="193.5" width="4" height="8" fill="#fff" stroke="#d8433b" stroke-width="1"/>
<rect x="1033" y="191" width="1" height="2" fill="#d8433b"/>
<rect x="1033" y="202" width="1" height="1" fill="#d8433b"/>
<rect x="1037.5" y="180.5" width="4" height="10" fill="#fff" stroke="#d8433b" stroke-width="1"/>
<rect x="1039" y="178" width="1" height="2" fill="#d8433b"/>
<rect x="1039" y="191" width="1" height="6" fill="#d8433b"/>
<rect x="1043.5" y="167.5" width="4" height="13" fill="#fff" stroke="#d8433b" stroke-width="1"/>
<rect x="1045" y="159" width="1" height="8" fill="#d8433b"/>
<rect x="1045" y="181" width="1" height="2" fill="#d8433b"/>
<rect x="1049" y="167" width="5" height="9" fill="#5ea457"/>
<rect x="1051" y="164" width="1" height="13" fill="#5ea457"/>
<rect x="1055" y="173" width="5" height="1" fill="#d8433b"/>
<rect x="1057" y="167" width="1" height="6" fill="#d8433b"/>
<rect x="1057" y="174" width="1" height="10" fill="#d8433b"/>
<rect x="1061.5" y="147.5" width="4" height="23" fill="#fff" stroke="#d8433b" stroke-width="1"/>
<rect x="1063" y="145" width="1" height="2" fill="#d8433b"/>
<rect x="1063" y="171" width="1" height="3" fill="#d8433b"/>
<rect x="1067.5" y="139.5" width="4" height="7" fill="#fff" stroke="#d8433b" stroke-width="1"/>
<rect x="1069" y="133" width="1" height="6" fill="#d8433b"/>
<rect x="1069" y="147" width="1" height="1" fill="#d8433b"/>
<rect x="1073" y="140" width="5" height="2" fill="#5ea457"/>
<rect x="1075" y="138" width="1" height="5" fill="#5ea457"/>
<polyline id="ma" fill="none" stroke="#000" stroke-width="1" shape-rendering="crispEdges" points="91.2,435.5 103.4,431.4 114.1,427.0 121.2,425.3 131.0,423.5 142.3,421.5 154.5,420.4 165.0,420.3 178.9,421.5 198.6,423.3 214.9,424.1 226.0,424.4 238.0,422.8 249.6,421.0 260.7,418.5 269.4,416.1 283.0,412.2 290.0,411.3 298.0,409.6 311.2,408.8 322.2,407.7 334.3,405.4 350.6,405.2 364.6,406.0 381.5,402.4 409.7,395.3 429.4,388.3 446.0,380.5 453.5,377.2 476.9,367.3 502.7,358.9 523.8,347.8 552.0,335.4 573.1,322.0 594.2,313.8 608.3,308.0 617.7,302.1 641.1,291.5 676.3,272.8 688.0,263.4 706.8,250.5 720,243.5 728.8,238 741.9,231.4 755,224.9 767.1,222 790,220.1 811.9,213.9 829.5,208 842.6,204.5 860.1,201.9 873.2,199.7 895.1,198.6 925.8,198.6 938.9,200.1 969.6,201.2 980,201.2 994.9,201.6 999.8,202.8 1011,204.3 1023.4,206.2 1035.8,207.4 1043.2,208.3 1049.4,209.5 1054.4,210.5 1065.5,210.5 1066.8,209.5 1074.8,209.3"/>
<line x1="88" y1="446.4" x2="1279" y2="179.6" stroke="#ff0000" stroke-width="2" shape-rendering="crispEdges"/>
<line x1="374" y1="709" x2="1243" y2="48.5" stroke="#ff0000" stroke-width="2.3" shape-rendering="crispEdges"/>
<rect x="88" y="138" width="1191" height="2" fill="#ff0000"/>
<line x1="88" y1="142.5" x2="1279" y2="142.5" stroke="#1a7dff" stroke-width="1" stroke-dasharray="3,3"/>
<rect x="725" y="115" width="7" height="1" fill="#000"/><rect x="727" y="113" width="1" height="4" fill="#000"/>
<text x="732.3" y="112" font-size="12" font-weight="bold" fill="#dc3c3c" font-family="Liberation Sans">2789.95</text>
<line x1="88" y1="731.5" x2="1279" y2="731.5" stroke="#e4eaf0" stroke-width="1" stroke-dasharray="3,3"/>
<rect x="85" y="736" width="2" height="1" fill="#d0d6de"/>
<rect x="85" y="741" width="2" height="1" fill="#d0d6de"/>
<rect x="85" y="745" width="2" height="1" fill="#d0d6de"/>
<rect x="85" y="750" width="2" height="1" fill="#d0d6de"/>
<line x1="88" y1="755.5" x2="1279" y2="755.5" stroke="#e4eaf0" stroke-width="1" stroke-dasharray="1,2"/>
<rect x="83" y="755" width="4" height="1" fill="#b4bcc6"/>
<rect x="85" y="760" width="2" height="1" fill="#d0d6de"/>
<rect x="85" y="765" width="2" height="1" fill="#d0d6de"/>
<rect x="85" y="770" width="2" height="1" fill="#d0d6de"/>
<rect x="85" y="775" width="2" height="1" fill="#d0d6de"/>
<line x1="88" y1="780.5" x2="1279" y2="780.5" stroke="#e4eaf0" stroke-width="1" stroke-dasharray="1,2"/>
<rect x="83" y="780" width="4" height="1" fill="#b4bcc6"/>
<rect x="85" y="785" width="2" height="1" fill="#d0d6de"/>
<rect x="85" y="790" width="2" height="1" fill="#d0d6de"/>
<rect x="85" y="794" width="2" height="1" fill="#d0d6de"/>
<rect x="85" y="799" width="2" height="1" fill="#d0d6de"/>
<line x1="88" y1="804.5" x2="1279" y2="804.5" stroke="#e4eaf0" stroke-width="1" stroke-dasharray="1,2"/>
<rect x="83" y="804" width="4" height="1" fill="#b4bcc6"/>
<rect x="85" y="809" width="2" height="1" fill="#d0d6de"/>
<rect x="85" y="814" width="2" height="1" fill="#d0d6de"/>
<rect x="85" y="819" width="2" height="1" fill="#d0d6de"/>
<rect x="85" y="824" width="2" height="1" fill="#d0d6de"/>
<line x1="88" y1="829.5" x2="1279" y2="829.5" stroke="#e4eaf0" stroke-width="1" stroke-dasharray="1,2"/>
<rect x="83" y="829" width="4" height="1" fill="#b4bcc6"/>
<rect x="85" y="834" width="2" height="1" fill="#d0d6de"/>
<rect x="85" y="839" width="2" height="1" fill="#d0d6de"/>
<rect x="85" y="844" width="2" height="1" fill="#d0d6de"/>
<rect x="85" y="849" width="2" height="1" fill="#d0d6de"/>
<line x1="88" y1="854.5" x2="1279" y2="854.5" stroke="#e4eaf0" stroke-width="1" stroke-dasharray="1,2"/>
<rect x="83" y="854" width="4" height="1" fill="#b4bcc6"/>
<rect x="85" y="859" width="2" height="1" fill="#d0d6de"/>
<rect x="85" y="864" width="2" height="1" fill="#d0d6de"/>
<rect x="85" y="868" width="2" height="1" fill="#d0d6de"/>
<rect x="85" y="873" width="2" height="1" fill="#d0d6de"/>
<line x1="88" y1="878.5" x2="1279" y2="878.5" stroke="#e4eaf0" stroke-width="1" stroke-dasharray="1,2"/>
<rect x="83" y="878" width="4" height="1" fill="#b4bcc6"/>
<rect x="85" y="883" width="2" height="1" fill="#d0d6de"/>
<rect x="85" y="888" width="2" height="1" fill="#d0d6de"/>
<rect x="85" y="893" width="2" height="1" fill="#d0d6de"/>
<rect x="85" y="898" width="2" height="1" fill="#d0d6de"/>
<line x1="88" y1="903.5" x2="1279" y2="903.5" stroke="#e4eaf0" stroke-width="1" stroke-dasharray="1,2"/>
<rect x="83" y="903" width="4" height="1" fill="#b4bcc6"/>
<rect x="85" y="908" width="2" height="1" fill="#d0d6de"/>
<rect x="85" y="913" width="2" height="1" fill="#d0d6de"/>
<rect x="85" y="918" width="2" height="1" fill="#d0d6de"/>
<rect x="85" y="923" width="2" height="1" fill="#d0d6de"/>
<defs><clipPath id="mc"><rect x="88" y="712" width="1191" height="216"/></clipPath></defs><g clip-path="url(#mc)">
<rect x="91" y="826" width="1" height="12" fill="#5ea457"/>
<rect x="97" y="823" width="1" height="4" fill="#d8433b"/>
<rect x="103" y="826" width="1" height="23" fill="#5ea457"/>
<rect x="109" y="826" width="1" height="28" fill="#5ea457"/>
<rect x="115" y="826" width="1" height="25" fill="#5ea457"/>
<rect x="121" y="826" width="1" height="18" fill="#5ea457"/>
<rect x="127" y="826" width="1" height="20" fill="#5ea457"/>
<rect x="133" y="826" width="1" height="8" fill="#5ea457"/>
<rect x="139" y="826" width="1" height="4" fill="#5ea457"/>
<rect x="145" y="824" width="1" height="3" fill="#d8433b"/>
<rect x="151" y="821" width="1" height="6" fill="#d8433b"/>
<rect x="157" y="806" width="1" height="21" fill="#d8433b"/>
<rect x="163" y="815" width="1" height="12" fill="#d8433b"/>
<rect x="169" y="815" width="1" height="12" fill="#d8433b"/>
<rect x="175" y="822" width="1" height="5" fill="#d8433b"/>
<rect x="181" y="826" width="1" height="8" fill="#5ea457"/>
<rect x="187" y="826" width="1" height="2" fill="#5ea457"/>
<rect x="193" y="824" width="1" height="3" fill="#d8433b"/>
<rect x="199" y="820" width="1" height="7" fill="#d8433b"/>
<rect x="205" y="819" width="1" height="8" fill="#d8433b"/>
<rect x="211" y="808" width="1" height="19" fill="#d8433b"/>
<rect x="217" y="803" width="1" height="24" fill="#d8433b"/>
<rect x="223" y="790" width="1" height="37" fill="#d8433b"/>
<rect x="229" y="799" width="1" height="28" fill="#d8433b"/>
<rect x="235" y="805" width="1" height="22" fill="#d8433b"/>
<rect x="241" y="807" width="1" height="20" fill="#d8433b"/>
<rect x="247" y="794" width="1" height="33" fill="#d8433b"/>
<rect x="253" y="792" width="1" height="35" fill="#d8433b"/>
<rect x="259" y="791" width="1" height="36" fill="#d8433b"/>
<rect x="265" y="776" width="1" height="51" fill="#d8433b"/>
<rect x="271" y="779" width="1" height="48" fill="#d8433b"/>
<rect x="277" y="792" width="1" height="35" fill="#d8433b"/>
<rect x="283" y="822" width="1" height="5" fill="#d8433b"/>
<rect x="289" y="826" width="1" height="16" fill="#5ea457"/>
<rect x="295" y="826" width="1" height="23" fill="#5ea457"/>
<rect x="301" y="826" width="1" height="31" fill="#5ea457"/>
<rect x="307" y="826" width="1" height="47" fill="#5ea457"/>
<rect x="313" y="826" width="1" height="44" fill="#5ea457"/>
<rect x="319" y="826" width="1" height="41" fill="#5ea457"/>
<rect x="325" y="826" width="1" height="26" fill="#5ea457"/>
<rect x="331" y="826" width="1" height="2" fill="#5ea457"/>
<rect x="337" y="816" width="1" height="11" fill="#d8433b"/>
<rect x="343" y="813" width="1" height="14" fill="#d8433b"/>
<rect x="349" y="826" width="1" height="1" fill="#d8433b"/>
<rect x="355" y="826" width="1" height="17" fill="#5ea457"/>
<rect x="361" y="826" width="1" height="28" fill="#5ea457"/>
<rect x="367" y="826" width="1" height="14" fill="#5ea457"/>
<rect x="373" y="826" width="1" height="5" fill="#5ea457"/>
<rect x="379" y="809" width="1" height="18" fill="#d8433b"/>
<rect x="385" y="803" width="1" height="24" fill="#d8433b"/>
<rect x="391" y="809" width="1" height="18" fill="#d8433b"/>
<rect x="397" y="812" width="1" height="15" fill="#d8433b"/>
<rect x="403" y="796" width="1" height="31" fill="#d8433b"/>
<rect x="409" y="792" width="1" height="35" fill="#d8433b"/>
<rect x="415" y="791" width="1" height="36" fill="#d8433b"/>
<rect x="421" y="796" width="1" height="31" fill="#d8433b"/>
<rect x="427" y="815" width="1" height="12" fill="#d8433b"/>
<rect x="433" y="817" width="1" height="10" fill="#d8433b"/>
<rect x="439" y="818" width="1" height="9" fill="#d8433b"/>
<rect x="445" y="819" width="1" height="8" fill="#d8433b"/>
<rect x="451" y="826" width="1" height="4" fill="#5ea457"/>
<rect x="457" y="826" width="1" height="6" fill="#5ea457"/>
<rect x="463" y="826" width="1" height="15" fill="#5ea457"/>
<rect x="469" y="826" width="1" height="22" fill="#5ea457"/>
<rect x="475" y="826" width="1" height="28" fill="#5ea457"/>
<rect x="481" y="826" width="1" height="30" fill="#5ea457"/>
<rect x="487" y="826" width="1" height="21" fill="#5ea457"/>
<rect x="493" y="826" width="1" height="24" fill="#5ea457"/>
<rect x="499" y="826" width="1" height="21" fill="#5ea457"/>
<rect x="505" y="826" width="1" height="14" fill="#5ea457"/>
<rect x="511" y="826" width="1" height="12" fill="#5ea457"/>
<rect x="517" y="818" width="1" height="9" fill="#d8433b"/>
<rect x="523" y="801" width="1" height="26" fill="#d8433b"/>
<rect x="529" y="795" width="1" height="32" fill="#d8433b"/>
<rect x="535" y="800" width="1" height="27" fill="#d8433b"/>
<rect x="541" y="811" width="1" height="16" fill="#d8433b"/>
<rect x="547" y="809" width="1" height="18" fill="#d8433b"/>
<rect x="553" y="798" width="1" height="29" fill="#d8433b"/>
<rect x="559" y="793" width="1" height="34" fill="#d8433b"/>
<rect x="565" y="785" width="1" height="42" fill="#d8433b"/>
<rect x="571" y="786" width="1" height="41" fill="#d8433b"/>
<rect x="577" y="787" width="1" height="40" fill="#d8433b"/>
<rect x="583" y="799" width="1" height="28" fill="#d8433b"/>
<rect x="589" y="821" width="1" height="6" fill="#d8433b"/>
<rect x="595" y="825" width="1" height="2" fill="#d8433b"/>
<rect x="601" y="826" width="1" height="7" fill="#5ea457"/>
<rect x="607" y="826" width="1" height="14" fill="#5ea457"/>
<rect x="613" y="826" width="1" height="21" fill="#5ea457"/>
<rect x="619" y="826" width="1" height="30" fill="#5ea457"/>
<rect x="625" y="826" width="1" height="43" fill="#5ea457"/>
<rect x="631" y="826" width="1" height="54" fill="#5ea457"/>
<rect x="637" y="826" width="1" height="48" fill="#5ea457"/>
<rect x="643" y="826" width="1" height="32" fill="#5ea457"/>
<rect x="649" y="826" width="1" height="26" fill="#5ea457"/>
<rect x="655" y="826" width="1" height="16" fill="#5ea457"/>
<rect x="661" y="826" width="1" height="6" fill="#5ea457"/>
<rect x="667" y="819" width="1" height="8" fill="#d8433b"/>
<rect x="673" y="803" width="1" height="24" fill="#d8433b"/>
<rect x="679" y="800" width="1" height="27" fill="#d8433b"/>
<rect x="685" y="790" width="1" height="37" fill="#d8433b"/>
<rect x="691" y="803" width="1" height="24" fill="#d8433b"/>
<rect x="697" y="807" width="1" height="20" fill="#d8433b"/>
<rect x="703" y="808" width="1" height="19" fill="#d8433b"/>
<rect x="709" y="815" width="1" height="12" fill="#d8433b"/>
<rect x="715" y="809" width="1" height="18" fill="#d8433b"/>
<rect x="721" y="805" width="1" height="22" fill="#d8433b"/>
<rect x="727" y="824" width="1" height="3" fill="#d8433b"/>
<rect x="733" y="826" width="1" height="15" fill="#5ea457"/>
<rect x="739" y="826" width="1" height="24" fill="#5ea457"/>
<rect x="745" y="826" width="1" height="27" fill="#5ea457"/>
<rect x="751" y="826" width="1" height="62" fill="#5ea457"/>
<rect x="757" y="826" width="1" height="59" fill="#5ea457"/>
<rect x="763" y="826" width="1" height="61" fill="#5ea457"/>
<rect x="769" y="826" width="1" height="84" fill="#5ea457"/>
<rect x="775" y="826" width="1" height="98" fill="#5ea457"/>
<rect x="781" y="826" width="1" height="106" fill="#5ea457"/>
<rect x="787" y="826" width="1" height="104" fill="#5ea457"/>
<rect x="793" y="826" width="1" height="93" fill="#5ea457"/>
<rect x="799" y="826" width="1" height="57" fill="#5ea457"/>
<rect x="805" y="826" width="1" height="22" fill="#5ea457"/>
<rect x="811" y="818" width="1" height="9" fill="#d8433b"/>
<rect x="817" y="792" width="1" height="35" fill="#d8433b"/>
<rect x="823" y="761" width="1" height="66" fill="#d8433b"/>
<rect x="829" y="785" width="1" height="42" fill="#d8433b"/>
<rect x="835" y="797" width="1" height="30" fill="#d8433b"/>
<rect x="841" y="804" width="1" height="23" fill="#d8433b"/>
<rect x="847" y="808" width="1" height="19" fill="#d8433b"/>
<rect x="853" y="805" width="1" height="22" fill="#d8433b"/>
<rect x="859" y="809" width="1" height="18" fill="#d8433b"/>
<rect x="865" y="811" width="1" height="16" fill="#d8433b"/>
<rect x="871" y="810" width="1" height="17" fill="#d8433b"/>
<rect x="877" y="818" width="1" height="9" fill="#d8433b"/>
<rect x="883" y="821" width="1" height="6" fill="#d8433b"/>
<rect x="889" y="813" width="1" height="14" fill="#d8433b"/>
<rect x="895" y="796" width="1" height="31" fill="#d8433b"/>
<rect x="901" y="779" width="1" height="48" fill="#d8433b"/>
<rect x="907" y="790" width="1" height="37" fill="#d8433b"/>
<rect x="913" y="812" width="1" height="15" fill="#d8433b"/>
<rect x="919" y="824" width="1" height="3" fill="#d8433b"/>
<rect x="925" y="826" width="1" height="8" fill="#5ea457"/>
<rect x="931" y="826" width="1" height="37" fill="#5ea457"/>
<rect x="937" y="826" width="1" height="47" fill="#5ea457"/>
<rect x="943" y="826" width="1" height="35" fill="#5ea457"/>
<rect x="949" y="826" width="1" height="30" fill="#5ea457"/>
<rect x="955" y="826" width="1" height="22" fill="#5ea457"/>
<rect x="961" y="826" width="1" height="9" fill="#5ea457"/>
<rect x="967" y="826" width="1" height="5" fill="#5ea457"/>
<rect x="973" y="826" width="1" height="8" fill="#5ea457"/>
<rect x="979" y="826" width="1" height="1" fill="#5ea457"/>
<rect x="985" y="809" width="1" height="18" fill="#d8433b"/>
<rect x="991" y="808" width="1" height="19" fill="#d8433b"/>
<rect x="997" y="809" width="1" height="18" fill="#d8433b"/>
<rect x="1003" y="806" width="1" height="21" fill="#d8433b"/>
<rect x="1009" y="802" width="1" height="25" fill="#d8433b"/>
<rect x="1015" y="798" width="1" height="29" fill="#d8433b"/>
<rect x="1021" y="791" width="1" height="36" fill="#d8433b"/>
<rect x="1027" y="801" width="1" height="26" fill="#d8433b"/>
<rect x="1033" y="804" width="1" height="23" fill="#d8433b"/>
<rect x="1039" y="800" width="1" height="27" fill="#d8433b"/>
<rect x="1045" y="794" width="1" height="33" fill="#d8433b"/>
<rect x="1051" y="799" width="1" height="28" fill="#d8433b"/>
<rect x="1057" y="805" width="1" height="22" fill="#d8433b"/>
<rect x="1063" y="796" width="1" height="31" fill="#d8433b"/>
<rect x="1069" y="790" width="1" height="37" fill="#d8433b"/>
<rect x="1075" y="794" width="1" height="33" fill="#d8433b"/>
<polyline fill="none" stroke="#000" stroke-width="1" shape-rendering="crispEdges" points="91.5,833.6 97.5,825.7 103.5,841.3 109.5,847.0 115.5,848.8 121.5,847.1 127.5,850.7 133.5,845.3 139.5,844.1 145.5,840.6 151.5,838.5 157.5,828.4 163.5,831.2 169.5,830.0 175.5,832.5 181.5,839.3 187.5,836.3 193.5,834.2 199.5,831.2 205.5,829.6 211.5,822.2 217.5,816.7 223.5,805.4 229.5,806.3 235.5,806.8 241.5,805.6 247.5,794.6 253.5,789.1 259.5,784.1 265.5,770.7 271.5,765.9 277.5,768.1 283.5,782.3 289.5,794.4 295.5,800.5 301.5,808.4 307.5,822.4 313.5,826.3 319.5,829.8 325.5,825.3 331.5,813.3 337.5,805.9 343.5,802.7 349.5,809.5 355.5,819.7 361.5,828.2 367.5,823.1 373.5,818.8 379.5,806.0 385.5,799.8 391.5,801.0 397.5,800.6 403.5,788.4 409.5,782.1 415.5,777.3 421.5,776.0 427.5,783.6 433.5,783.4 439.5,783.2 445.5,782.7 451.5,788.7 457.5,790.1 463.5,796.4 469.5,802.6 475.5,809.0 481.5,813.5 487.5,811.7 493.5,815.8 499.5,816.9 505.5,815.3 511.5,815.5 517.5,804.7 523.5,793.1 529.5,785.7 535.5,785.0 541.5,788.5 547.5,785.4 553.5,776.0 559.5,769.5 565.5,760.1 571.5,755.9 577.5,751.5 583.5,754.0 589.5,764.3 595.5,766.1 601.5,770.4 607.5,775.8 613.5,781.8 619.5,789.8 625.5,801.6 631.5,813.5 637.5,816.6 643.5,812.6 649.5,812.3 655.5,809.1 661.5,804.8 667.5,797.8 673.5,786.9 679.5,781.7 685.5,772.3 691.5,775.9 697.5,775.1 703.5,773.7 709.5,775.3 715.5,769.9 721.5,765.3 727.5,774.6 733.5,784.6 739.5,792.3 745.5,797.0 751.5,822.1 757.5,827.5 763.5,836.4 769.5,858.2 775.5,877.2 781.5,894.7 787.5,906.3 793.5,912.3 799.5,901.4 805.5,886.7 811.5,870.3 817.5,853.2 823.5,829.6 829.5,836.0 835.5,838.4 841.5,839.0 847.5,838.6 853.5,834.8 859.5,834.5 865.5,833.5 871.5,831.1 877.5,833.5 883.5,834.8 889.5,829.0 895.5,816.2 901.5,802.2 907.5,803.0 913.5,812.1 919.5,818.0 925.5,823.5 931.5,842.7 937.5,853.1 943.5,851.8 949.5,852.6 955.5,851.5 961.5,846.0 967.5,844.5 973.5,846.9 979.5,843.4 985.5,832.2 991.5,829.2 997.5,827.7 1003.5,823.8 1009.5,818.6 1015.5,813.0 1021.5,804.9 1027.5,806.6 1033.5,805.1 1039.5,800.1 1045.5,792.8 1051.5,792.2 1057.5,792.0 1063.5,783.5 1069.5,776.1 1075.5,774.1"/>
<polyline fill="none" stroke="#10109a" stroke-width="1" shape-rendering="crispEdges" points="91.5,827.9 97.5,827.4 103.5,830.2 109.5,833.6 115.5,836.6 121.5,838.7 127.5,841.1 133.5,841.9 139.5,842.4 145.5,842.0 151.5,841.3 157.5,838.7 163.5,837.2 169.5,835.8 175.5,835.1 181.5,836.0 187.5,836.0 193.5,835.6 199.5,834.8 205.5,833.7 211.5,831.4 217.5,828.5 223.5,823.9 229.5,820.3 235.5,817.6 241.5,815.2 247.5,811.1 253.5,806.7 259.5,802.2 265.5,795.9 271.5,789.9 277.5,785.5 283.5,784.9 289.5,786.8 295.5,789.5 301.5,793.3 307.5,799.1 313.5,804.5 319.5,809.6 325.5,812.7 331.5,812.8 337.5,811.5 343.5,809.7 349.5,809.7 355.5,811.7 361.5,815.0 367.5,816.6 373.5,817.1 379.5,814.8 385.5,811.8 391.5,809.7 397.5,807.9 403.5,804.0 409.5,799.6 415.5,795.1 421.5,791.3 427.5,789.8 433.5,788.5 439.5,787.5 445.5,786.5 451.5,786.9 457.5,787.6 463.5,789.3 469.5,792.0 475.5,795.4 481.5,799.0 487.5,801.6 493.5,804.4 499.5,806.9 505.5,808.6 511.5,810.0 517.5,808.9 523.5,805.8 529.5,801.8 535.5,798.4 541.5,796.4 547.5,794.2 553.5,790.6 559.5,786.4 565.5,781.1 571.5,776.1 577.5,771.2 583.5,767.7 589.5,767.0 595.5,766.8 601.5,767.5 607.5,769.2 613.5,771.7 619.5,775.3 625.5,780.6 631.5,787.2 637.5,793.1 643.5,797.0 649.5,800.0 655.5,801.8 661.5,802.4 667.5,801.5 673.5,798.6 679.5,795.2 685.5,790.6 691.5,787.7 697.5,785.2 703.5,782.9 709.5,781.4 715.5,779.1 721.5,776.3 727.5,776.0 733.5,777.7 739.5,780.6 745.5,783.9 751.5,791.5 757.5,798.7 763.5,806.2 769.5,816.6 775.5,828.7 781.5,841.9 787.5,854.8 793.5,866.3 799.5,873.3 805.5,876.0 811.5,874.9 817.5,870.5 823.5,862.4 829.5,857.1 835.5,853.4 841.5,850.5 847.5,848.1 853.5,845.4 859.5,843.3 865.5,841.3 871.5,839.3 877.5,838.1 883.5,837.4 889.5,835.8 895.5,831.8 901.5,825.9 907.5,821.3 913.5,819.5 919.5,819.2 925.5,820.1 931.5,824.6 937.5,830.3 943.5,834.6 949.5,838.2 955.5,840.9 961.5,841.9 967.5,842.4 973.5,843.3 979.5,843.3 985.5,841.1 991.5,838.7 997.5,836.5 1003.5,834.0 1009.5,830.9 1015.5,827.3 1021.5,822.9 1027.5,819.6 1033.5,816.7 1039.5,813.4 1045.5,809.3 1051.5,805.8 1057.5,803.1 1063.5,799.2 1069.5,794.5 1075.5,790.5"/>
</g>
<g transform="translate(26,716.9)"><circle r="3.5" fill="#fff" stroke="#000" stroke-width="1.05"/><circle r="2.1" fill="#f00"/><line x1="5.00" y1="0.00" x2="7.20" y2="0.00" stroke="#f00" stroke-width="1.1"/><line x1="3.54" y1="3.54" x2="5.09" y2="5.09" stroke="#f00" stroke-width="1.1"/><line x1="0.00" y1="5.00" x2="0.00" y2="7.20" stroke="#f00" stroke-width="1.1"/><line x1="-3.54" y1="3.54" x2="-5.09" y2="5.09" stroke="#f00" stroke-width="1.1"/><line x1="-5.00" y1="0.00" x2="-7.20" y2="0.00" stroke="#f00" stroke-width="1.1"/><line x1="-3.54" y1="-3.54" x2="-5.09" y2="-5.09" stroke="#f00" stroke-width="1.1"/><line x1="-0.00" y1="-5.00" x2="-0.00" y2="-7.20" stroke="#f00" stroke-width="1.1"/><line x1="3.54" y1="-3.54" x2="5.09" y2="-5.09" stroke="#f00" stroke-width="1.1"/></g>
<rect x="88" y="928" width="1191" height="1" fill="#e0e6ec"/>
<rect x="199" y="929" width="1" height="4" fill="#c8d0d8"/>
<rect x="337" y="929" width="1" height="4" fill="#c8d0d8"/>
<rect x="469" y="929" width="1" height="4" fill="#c8d0d8"/>
<rect x="595" y="929" width="1" height="4" fill="#c8d0d8"/>
<rect x="733" y="929" width="1" height="4" fill="#c8d0d8"/>
<rect x="859" y="929" width="1" height="4" fill="#c8d0d8"/>
<rect x="985" y="929" width="1" height="4" fill="#c8d0d8"/>
</svg>
<div class="yl" style="top:41px">2886.65</div>
<div class="yl" style="top:96px">2806.17</div>
<div class="yl" style="top:151px">2725.70</div>
<div class="yl" style="top:206px">2645.22</div>
<div class="yl" style="top:261px">2564.75</div>
<div class="yl" style="top:316px">2484.27</div>
<div class="yl" style="top:371px">2403.80</div>
<div class="yl" style="top:426px">2323.32</div>
<div class="yl" style="top:481px">2242.84</div>
<div class="yl" style="top:536px">2162.37</div>
<div class="yl" style="top:591px">2081.89</div>
<div class="yl" style="top:646px">2001.42</div>
<div class="yl" style="top:724px">30.64</div>
<div class="yl" style="top:748px">22.63</div>
<div class="yl" style="top:773px">14.61</div>
<div class="yl" style="top:797px">6.60</div>
<div class="yl" style="top:822px">-1.41</div>
<div class="yl" style="top:847px">-9.43</div>
<div class="yl" style="top:871px">-17.44</div>
<div class="yl" style="top:896px">-25.46</div>
<div class="hd" style="left:88.5px;top:29px;font-size:12px;color:#15151f;font-weight:500;font-family:'Noto Sans CJK SC',sans-serif;line-height:14px">现货黄金</div>
<div class="hd" style="left:136.5px;top:29px;font-size:12px;color:#ff7a00;font-family:'Noto Sans CJK SC',sans-serif;line-height:14px">【日线】</div>
<svg class="abs" style="left:185px;top:34px" width="10" height="10"><circle cx="4.7" cy="4.5" r="4" fill="none" stroke="#ff8a20" stroke-width="1"/><path d="M0.5,4.5 H9 M4.7,1 V8" stroke="#ff8a20" stroke-width="1"/><path d="M4.7,1 V8" stroke="#ffd0a0" stroke-width="1"/></svg>
<svg class="abs" style="left:202px;top:28px" width="13" height="14"><rect x="0.5" y="0.5" width="11" height="12" fill="#fff" stroke="#10108a"/><rect x="1" y="12" width="11" height="2" fill="#10108a"/><rect x="11" y="1" width="1.5" height="12" fill="#10108a"/><path d="M1,8 L4,4 L7,7.3 L9.5,5.2 L11,5.2" fill="none" stroke="#ff1010" stroke-width="1.1"/><path d="M1,11.2 L4,7.3 L7,10.5 L9.5,8.3 L11,8.3" fill="none" stroke="#1030ff" stroke-width="1.1"/></svg>
<div class="hd" style="left:217px;top:30px;color:#111">MA1(55,0,0,0)</div>
<div class="hd" style="left:300px;top:30px;color:#111">MA55:2651.85</div>
<div class="hd" style="left:390px;top:30px;color:#1a1a8a;letter-spacing:0.3px">MA0:2749.94</div>
<div class="hd" style="left:473px;top:30px;color:#ff00ff;letter-spacing:0.3px">MA0:2749.94</div>
<div class="hd" style="left:556.5px;top:30px;color:#ff7f1a;letter-spacing:0.3px">MA0:2749.94</div>
<div class="hd" style="left:89px;top:713px;color:#111">MACD(13,8,9)</div>
<div class="hd" style="left:172px;top:713px;color:#111">DIFF:16.96</div>
<div class="hd" style="left:239px;top:713px;color:#1a1a8a">DEA:11.93</div>
<div class="hd" style="left:305px;top:713px;color:#ff00ff">MACD:10.07</div>
<div class="xl" style="left:201.5px">2024/07</div>
<div class="xl" style="left:339.5px">2024/08</div>
<div class="xl" style="left:471.5px">2024/09</div>
<div class="xl" style="left:597.5px">2024/10</div>
<div class="xl" style="left:735.5px">2024/11</div>
<div class="xl" style="left:861.5px">2024/12</div>
<div class="xl" style="left:987.5px">2025/01</div>
<div class="abs" style="left:94px;top:929px;width:110px;height:17px;background:#fff;border:1px solid #e4e8ee"></div>
<div class="hd" style="left:96px;top:930px;font-size:12px;line-height:15px;color:#ff7a00;letter-spacing:0.55px;font-family:'Liberation Sans','Noto Sans CJK SC',sans-serif">2024/06/06 星期四</div>
<div class="abs" style="left:17px;top:929px;width:70px;height:19px;background:#fff;border:1px solid #d0d8e0"></div>
<div class="hd" style="left:30px;top:931px;font-size:13px;line-height:16px;font-weight:bold;color:#ff7000;font-family:'Noto Sans CJK SC',sans-serif">日线 <span style="font-size:10px;position:relative;top:-1px">▲</span></div>
<div class="abs" style="left:17px;top:948px;width:1262px;height:1px;background:#c8d0da"></div>
<div class="abs" style="left:0px;top:963px;width:1279px;height:2px;background:#c5ced8"></div>
<div class="tab" style="left:17px;width:39px;background:#ff6600;color:#fff;font-family:'Noto Sans CJK SC',sans-serif;font-size:12.5px;line-height:13.5px;letter-spacing:0">指标</div>
<div class="tab" style="left:56px;width:40px;font-family:'Noto Sans CJK SC',sans-serif;font-size:12.5px;line-height:13.5px;letter-spacing:0">模板</div>
<div class="tab" style="left:96px;width:58px;color:#ff7000;font-family:'Liberation Mono','Noto Sans CJK SC',monospace;font-size:12px">VIP指标</div>
<div class="tab" style="left:154px;width:28px;">MA</div>
<div class="tab" style="left:182px;width:40px;">MACD</div>
<div class="tab" style="left:222px;width:40px;">BOLL</div>
<div class="tab" style="left:262px;width:34px;">VOL</div>
<div class="tab" style="left:296px;width:40px;">BIAS</div>
<div class="tab" style="left:336px;width:34px;">CCI</div>
<div class="tab" style="left:370px;width:34px;">KDJ</div>
<div class="tab" style="left:404px;width:40px;">LW&amp;</div>
<div class="tab" style="left:444px;width:34px;">RSI</div>
<div class="tab" style="left:478px;width:28px;">CR</div>
<div class="tab" style="left:506px;width:34px;">PSY</div>
<div class="tab" style="left:540px;width:40px;font-family:'Noto Sans CJK SC',sans-serif;font-size:12.5px;line-height:13.5px;letter-spacing:0">设置</div>
<div class="abs" style="left:740px;top:965px;width:180px;height:3px;background:#b4b4bc"></div>
<div class="abs" style="left:826px;top:965px;width:8px;height:8px;border-radius:4px;background:#606068"></div>
<div class="abs" style="left:1151px;top:914px;font-size:30px;line-height:34px;letter-spacing:2px;color:#dce8f6;text-shadow:1px 1px 1px #c8b8a8;font-family:'Liberation Sans',sans-serif">FX678</div>
</body></html>
